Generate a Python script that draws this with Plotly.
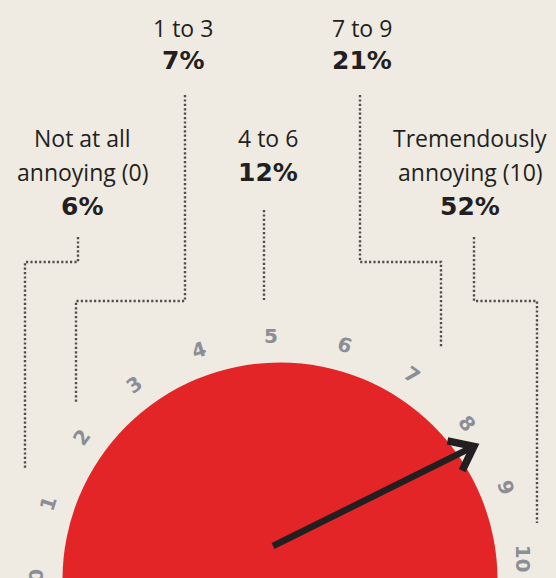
import math
import plotly.graph_objects as go

# ---------------- data ----------------
categories = ["Not at all|annoying (0)", "1 to 3", "4 to 6", "7 to 9", "Tremendously|annoying (10)"]
shares_pct = [6, 7, 12, 21, 52]
scale_ticks = [0, 1, 2, 3, 4, 5, 6, 7, 8, 9, 10]
needle_value = 8.3

# ---------------- layout / style constants ----------------
W, H = 556, 578
BG = "#efebe2"
RED = "#e32528"
DARK = "#231f20"
GREY_NUM = "#8b8e94"
DOT = "#4f4f4f"

CX, CY = 280, -2          # gauge centre (pixel units, y up)
R_DISC = 217.5
R_LABEL = 244
R_NEEDLE = 235.5
NEEDLE_TAIL = (273, 32)


def theta(v):
    # scale value -> angle in degrees (0 on the left, 10 on the right)
    return 179.0 - 17.4 * v


def polar(v, r):
    a = math.radians(theta(v))
    return CX + r * math.cos(a), CY + r * math.sin(a)


def top(y):  # convert pixel-from-top to y-up coordinate
    return H - y


label_x = [82, 183, 268, 362, 470]
label_top = [138, 28, 138, 28, 138]
line_gap = [34, 32, 34, 32, 34]

leader_paths = [
    [(78, 237), (78, 262), (25, 262), (25, 468)],
    [(185, 95), (185, 301), (76, 301), (76, 402)],
    [(264, 210), (264, 300)],
    [(360, 95), (360, 262), (441, 262), (441, 347)],
    [(474, 237), (474, 301), (537, 301), (537, 523)],
]

fig = go.Figure()

# red disc (only the top half is visible)
fig.add_shape(type="circle", xref="x", yref="y",
              x0=CX - R_DISC, x1=CX + R_DISC, y0=CY - R_DISC, y1=CY + R_DISC,
              fillcolor=RED, line=dict(width=0), layer="below")

# dotted leader lines
for path in leader_paths:
    fig.add_trace(go.Scatter(
        x=[p[0] for p in path], y=[top(p[1]) for p in path], mode="lines",
        line=dict(color=DOT, width=2.4, dash="2.2px,2.2px"),
        hoverinfo="skip", showlegend=False))

# needle
tip = polar(needle_value, R_NEEDLE)
dx, dy = tip[0] - NEEDLE_TAIL[0], tip[1] - NEEDLE_TAIL[1]
back = math.atan2(-dy, -dx)
arm_len = 27
arms = [(tip[0] + arm_len * math.cos(back + s * math.radians(38)),
         tip[1] + arm_len * math.sin(back + s * math.radians(38))) for s in (1, -1)]
L = math.hypot(dx, dy)
shaft_end = (tip[0] - dx / L * 4, tip[1] - dy / L * 4)
fig.add_trace(go.Scatter(
    x=[NEEDLE_TAIL[0], shaft_end[0]], y=[NEEDLE_TAIL[1], shaft_end[1]],
    mode="lines", line=dict(color=DARK, width=6.5),
    hoverinfo="skip", showlegend=False))
fig.add_trace(go.Scatter(
    x=[arms[0][0], tip[0], arms[1][0]], y=[arms[0][1], tip[1], arms[1][1]],
    mode="lines", line=dict(color=DARK, width=7.5),
    hoverinfo="skip", showlegend=False))

# scale numerals around the arc
for v in scale_ticks:
    x, y = polar(v, R_LABEL)
    fig.add_annotation(x=x, y=y, xref="x", yref="y", text=str(v), showarrow=False,
                       textangle=18 * v - 90, xanchor="center", yanchor="middle",
                       font=dict(family="DejaVu Sans", size=20, color=GREY_NUM, weight="bold"))

# category labels and shares
for i, (cat, pct) in enumerate(zip(categories, shares_pct)):
    lines = cat.split("|")
    y = label_top[i]
    for ln in lines:
        fig.add_annotation(x=label_x[i], y=top(y), xref="x", yref="y", text=ln,
                           showarrow=False, xanchor="center", yanchor="middle",
                           font=dict(family="Open Sans", size=23, color=DARK))
        y += line_gap[i]
    fig.add_annotation(x=label_x[i], y=top(y), xref="x", yref="y", text=f"{pct}%",
                       showarrow=False, xanchor="center", yanchor="middle",
                       font=dict(family="DejaVu Sans", size=25, color=DARK, weight="bold"))

fig.update_layout(
    width=W, height=H, margin=dict(l=0, r=0, t=0, b=0),
    paper_bgcolor=BG, plot_bgcolor=BG, showlegend=False,
    xaxis=dict(range=[0, W], visible=False, fixedrange=True),
    yaxis=dict(range=[0, H], visible=False, fixedrange=True),
)

fig.write_html("out.html", config={"displayModeBar": False},
               post_script="document.body.style.margin='0';document.body.style.background='#efebe2';")
